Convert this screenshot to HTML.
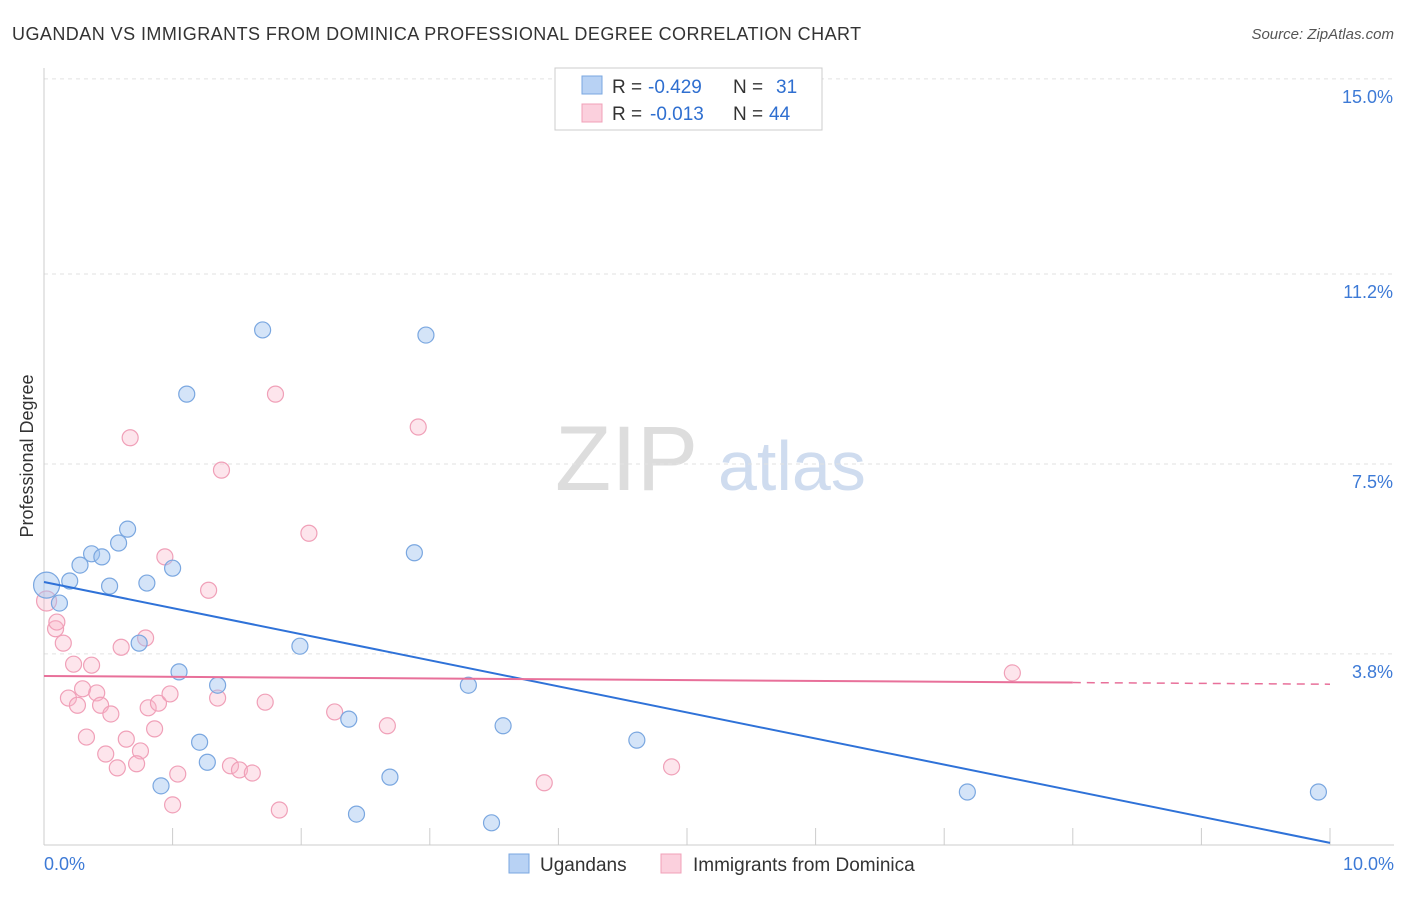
<!DOCTYPE html>
<html><head><meta charset="utf-8"><style>
body{margin:0;background:#fff;font-family:"Liberation Sans",sans-serif;}
svg text{font-family:"Liberation Sans",sans-serif;}
</style></head><body>
<svg id="c" width="1406" height="892" xmlns="http://www.w3.org/2000/svg">
<text x="12" y="40" font-size="18" letter-spacing="0.45" fill="#333">UGANDAN VS IMMIGRANTS FROM DOMINICA PROFESSIONAL DEGREE CORRELATION CHART</text>
<text x="1394" y="39" font-size="15" font-style="italic" fill="#555" text-anchor="end">Source: ZipAtlas.com</text>
<text x="33" y="456" font-size="18" fill="#333" text-anchor="middle" transform="rotate(-90 33 456)">Professional Degree</text>
<g><text x="555" y="490" font-size="92" font-family="Liberation Serif" fill="#ddd">ZIP</text><text x="718" y="490" font-size="70" fill="#cfdcef">atlas</text></g>
<g id="grid"></g><g id="marks"></g>
<g>
<rect x="555" y="68" width="267" height="62" fill="#fff" stroke="#ccc"/>
<rect x="582" y="76" width="20" height="18" fill="#b8d2f4" stroke="#7aa7e0"/>
<rect x="582" y="104" width="20" height="18" fill="#fbd0dd" stroke="#f0a0b8"/>
<text x="612" y="93" font-size="19" fill="#333">R =</text>
<text x="648" y="93" font-size="19" fill="#2f6fd0">-0.429</text>
<text x="733" y="93" font-size="19" fill="#333">N =</text>
<text x="776" y="93" font-size="19" fill="#2f6fd0">31</text>
<text x="612" y="120" font-size="19" fill="#333">R =</text>
<text x="650" y="120" font-size="19" fill="#2f6fd0">-0.013</text>
<text x="733" y="120" font-size="19" fill="#333">N =</text>
<text x="769" y="120" font-size="19" fill="#2f6fd0">44</text>
</g>
<g>
<rect x="509" y="854" width="20" height="19" fill="#b8d2f4" stroke="#7aa7e0"/>
<text x="540" y="871" font-size="19" fill="#333">Ugandans</text>
<rect x="661" y="854" width="20" height="19" fill="#fbd0dd" stroke="#f0a0b8"/>
<text x="693" y="871" font-size="19" fill="#333">Immigrants from Dominica</text>
</g>
</svg>
<script>
const yTicks=[15.0,11.2,7.5,3.8];
const xTickLabels=["0.0%","10.0%"];
const blueX=[0.02,0.12,0.20,0.28,0.37,0.45,0.51,0.58,0.65,0.80,1.00,0.74,1.11,1.05,1.35,1.21,1.27,0.91,1.70,1.99,2.37,2.43,2.69,2.88,2.97,3.30,3.48,3.57,4.61,7.18,9.91];
const blueY=[5.14,4.79,5.22,5.53,5.75,5.69,5.12,5.96,6.23,5.18,5.47,4.01,8.86,3.45,3.19,2.08,1.69,1.23,10.11,3.95,2.53,0.68,1.40,5.77,10.01,3.19,0.51,2.40,2.12,1.11,1.11];
const pinkX=[0.02,0.09,0.10,0.15,0.23,0.37,0.30,0.19,0.26,0.41,0.44,0.52,0.33,0.48,0.57,0.60,0.64,0.67,0.75,0.79,0.72,0.81,0.86,0.89,0.94,0.98,1.04,1.00,1.28,1.35,1.38,1.45,1.52,1.62,1.72,1.80,1.83,2.06,2.26,2.67,2.91,3.89,4.88,7.53];
const pinkY=[4.83,4.29,4.42,4.01,3.60,3.58,3.12,2.94,2.80,3.04,2.80,2.63,2.18,1.85,1.58,3.93,2.14,8.01,1.91,4.11,1.66,2.75,2.34,2.84,5.69,3.02,1.46,0.86,5.04,2.94,7.38,1.62,1.54,1.48,2.86,8.86,0.76,6.15,2.67,2.40,8.22,1.29,1.60,3.43];
const blueLine=[5.20,0.12];
const pinkLine=[3.37,3.21];
const pinkSolidEnd=8.0;
const NS="http://www.w3.org/2000/svg";
const X=v=>44+v*128.6, Y=v=>849-v*51.34;
function mk(t,a,p){const e=document.createElementNS(NS,t);for(const k in a)e.setAttribute(k,a[k]);p.appendChild(e);return e;}
const g=document.getElementById('grid'), m=document.getElementById('marks');
yTicks.forEach(t=>{
 const l=mk('line',{x1:44,x2:1394,y1:Y(t),y2:Y(t),stroke:'#e2e2e2','stroke-dasharray':'4,4'},g);
 
 
 const tx=mk('text',{x:1393,y:Y(t)+24,'font-size':18,fill:'#3d7ad6','text-anchor':'end'},g);
 tx.textContent=t.toFixed(1)+'%';
 
 
});
mk('line',{x1:44,x2:44,y1:68,y2:845,stroke:'#ccc'},g);
mk('line',{x1:44,x2:1394,y1:845,y2:845,stroke:'#ccc'},g);
for(let i=1;i<=10;i++){mk('line',{x1:X(i),x2:X(i),y1:828,y2:845,stroke:'#ccc'},g);}
[[0,'start',44],[10,'end',1394]].forEach((d,i)=>{
 const tx=mk('text',{x:d[2],y:870,'font-size':18,fill:'#3d7ad6','text-anchor':d[1]},g);
 tx.textContent=xTickLabels[i];
 
 
});
pinkX.forEach((x,i)=>{
 const c=mk('circle',{cx:X(x),cy:Y(pinkY[i]),r:i==0?10:8,fill:'rgba(248,180,200,0.35)',stroke:'#f0a0b8','stroke-width':1.2},m);
 
 
});
blueX.forEach((x,i)=>{
 const c=mk('circle',{cx:X(x),cy:Y(blueY[i]),r:i==0?13:8,fill:'rgba(160,196,240,0.45)',stroke:'#7aa7e0','stroke-width':1.2},m);
 
 
});
const bl=mk('line',{x1:X(0),y1:Y(blueLine[0]),x2:X(10),y2:Y(blueLine[1]),stroke:'#2f72d8','stroke-width':2},m);


const py=x=>pinkLine[0]+(pinkLine[1]-pinkLine[0])*x/10;
const pl=mk('line',{x1:X(0),y1:Y(py(0)),x2:X(pinkSolidEnd),y2:Y(py(pinkSolidEnd)),stroke:'#e8709a','stroke-width':2},m);


const pd=mk('line',{x1:X(pinkSolidEnd),y1:Y(py(pinkSolidEnd)),x2:X(10),y2:Y(py(10)),stroke:'#e8709a','stroke-width':1.5,'stroke-dasharray':'8,6'},m);


</script>
</body></html>
